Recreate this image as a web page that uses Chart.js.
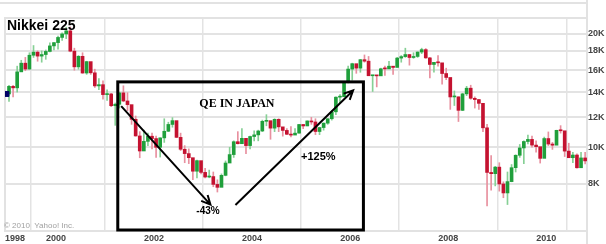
<!DOCTYPE html>
<html>
<head>
<meta charset="utf-8">
<script src="https://cdn.jsdelivr.net/npm/chart.js@4.4.1/dist/chart.umd.min.js"></script>
<style>
  html, body { margin: 0; padding: 0; background: #fff; }
  #wrap { width: 606px; height: 244px; }
</style>
</head>
<body>
<div id="wrap"><canvas id="myChart" width="606" height="244"></canvas></div>
<script>
// Nikkei 225, monthly, Jan 1999 .. Oct 2010
var startClose = 13842; // close of Dec 1998, open of first month
var closes = [
  14499, 14368, 15837, 16701, 16112, 17530, 17862, 17437, 17605, 17942, 18558, 18934,
  19540, 19960, 20337, 17974, 16332, 17411, 15727, 16861, 15747, 14539, 14649, 13786,
  13844, 12884, 12999, 13934, 13262, 12969, 11861, 10714, 9775, 10366, 10697, 10543,
  9998, 10588, 11025, 11493, 11764, 10622, 9878, 9620, 9383, 8640, 9216, 8579,
  8340, 8363, 7973, 7831, 8425, 9083, 9563, 10344, 10219, 10560, 10101, 10677,
  10784, 11042, 11715, 11761, 11237, 11859, 11326, 11082, 10824, 10771, 10899, 11489,
  11388, 11741, 11668, 11009, 11277, 11584, 11900, 12414, 13574, 13607, 14872, 16111,
  16650, 16205, 17060, 16906, 15467, 15505, 15457, 16140, 16128, 16399, 16274, 17226,
  17383, 17604, 17288, 17400, 17875, 18138, 17248, 16569, 16785, 16737, 15680, 15307,
  13592, 13603, 12525, 13849, 14338, 13481, 13376, 13072, 11259, 8576, 8512, 8859,
  7994, 7568, 8109, 8828, 9522, 9958, 10357, 10492, 10133, 10034, 9345, 10546,
  10198, 10126, 11089, 11057, 9768, 9382, 9537, 8824, 9369, 9202
];
var highs = [
  14600, 14600, 16400, 17000, 17300, 17800, 18600, 18000, 18000, 18100, 18900, 18950,
  19700, 20100, 20800, 20833, 18300, 17500, 17800, 16900, 16700, 16100, 15200, 15000,
  14200, 13900, 13100, 14000, 14550, 13950, 12800, 12100, 11000, 11100, 10900, 10900,
  10700, 10600, 11900, 11650, 11980, 11700, 10900, 10100, 9900, 9200, 9250, 9150,
  8800, 8700, 8600, 8200, 8500, 9200, 10000, 10400, 11000, 11200, 10500, 10700,
  11050, 11100, 11800, 12200, 11700, 11900, 11900, 11200, 11200, 11350, 11200, 11500,
  11500, 11750, 12000, 11900, 11300, 11600, 11900, 12500, 13600, 13800, 14900, 16400,
  16700, 16500, 17100, 17560, 17400, 15500, 15500, 16200, 16400, 16900, 16300, 17300,
  17500, 18300, 17600, 17800, 17900, 18300, 18260, 17300, 16800, 17500, 16400, 16200,
  15100, 14100, 13600, 13900, 14500, 14600, 13600, 13400, 12800, 11500, 9500, 8900,
  9100, 8100, 8600, 9000, 9550, 10170, 10400, 10770, 10700, 10400, 10000, 10640,
  10980, 10300, 11100, 11410, 11000, 10250, 9700, 9600, 9700, 9700
];
var lows = [
  13230, 13600, 14000, 15900, 15950, 16100, 17300, 16900, 16800, 17100, 17900, 18100,
  18200, 19200, 19400, 17900, 16000, 16100, 15700, 15600, 15600, 14400, 14200, 13400,
  13300, 12800, 11430, 12700, 13200, 12500, 11500, 10700, 9380, 9950, 10100, 9900,
  9400, 9420, 10300, 11000, 11300, 10600, 9800, 9100, 9050, 8200, 8300, 8500,
  8300, 8300, 7860, 7610, 7900, 8400, 9300, 9400, 10200, 10300, 9620, 9900,
  10400, 10400, 11000, 11400, 10500, 11000, 11000, 10700, 10800, 10650, 10800, 10900,
  11200, 11400, 11500, 10800, 10800, 11100, 11500, 11800, 12200, 13100, 13800, 14800,
  15060, 15700, 15800, 16800, 15500, 14050, 14450, 15500, 15500, 16300, 15600, 16300,
  16800, 17300, 16500, 17200, 17300, 17700, 17200, 15270, 15800, 16400, 14700, 15100,
  12600, 12900, 11700, 12500, 13700, 13400, 12700, 12600, 11000, 6990, 7700, 7900,
  7650, 7350, 7050, 8100, 8600, 9400, 9050, 10200, 10000, 9700, 9080, 9700,
  10100, 9870, 10400, 10900, 9450, 9400, 9100, 8800, 8900, 9030
];
var yearTicks = [2000, 2002, 2004, 2006, 2008, 2010];
var firstYearLabel = '1998';
var valueTicks = [8000, 10000, 12000, 14000, 16000, 18000, 20000];

var xMin = 1998.96, xMax = 2010.83;
var upBody = '#1f9f3b', upWick = '#86d095';
var downBody = '#c41230', downWick = '#e8909f';

var wicks = [], bodies = [], wickColors = [], bodyColors = [];
for (var i = 0; i < closes.length; i++) {
  var x = 1999 + (i + 0.5) / 12;
  var open = i === 0 ? startClose : closes[i - 1];
  var up = closes[i] >= open;
  wicks.push({x: x, y: [lows[i], highs[i]]});
  bodies.push({x: x, y: [open, closes[i]]});
  wickColors.push(up ? upWick : downWick);
  bodyColors.push(up ? upBody : downBody);
}

var overlay = {
  id: 'overlay',
  beforeDatasetsDraw: function(chart) {
    var c = chart.ctx, a = chart.chartArea;
    c.save();
    c.strokeStyle = '#e2e2e2';
    c.lineWidth = 2;
    c.strokeRect(a.left, a.top, a.right - a.left, a.bottom - a.top);
    c.beginPath();
    c.moveTo(0, 3); c.lineTo(a.right, 3);
    c.moveTo(a.right, 0); c.lineTo(a.right, 244);
    c.stroke();
    c.fillStyle = '#a0a0a0';
    c.font = '8px "Liberation Sans", Arial, sans-serif';
    c.textBaseline = 'middle';
    c.fillText('\u00a9 2010  Yahoo! Inc.', 4, 226);
    c.restore();
  },
  afterDatasetsDraw: function(chart) {
    var c = chart.ctx, a = chart.chartArea;
    var sx = chart.scales.x, sy = chart.scales.y;
    function px(v) { return sx.getPixelForValue(v); }
    function py(v) { return sy.getPixelForValue(v); }
    function arrow(x1, y1, x2, y2) {
      var ang = Math.atan2(y2 - y1, x2 - x1), h = 10;
      c.beginPath();
      c.moveTo(x1, y1); c.lineTo(x2, y2);
      c.moveTo(x2 - h * Math.cos(ang - 0.45), y2 - h * Math.sin(ang - 0.45));
      c.lineTo(x2, y2);
      c.lineTo(x2 - h * Math.cos(ang + 0.45), y2 - h * Math.sin(ang + 0.45));
      c.stroke();
    }
    c.save();
    c.strokeStyle = '#000';
    c.lineWidth = 3;
    c.strokeRect(px(2001.26), py(14900), px(2006.27) - px(2001.26), a.bottom - 1 - py(14900));
    c.lineWidth = 2;
    arrow(px(2001.33), py(12850), px(2003.15), py(7050));
    arrow(px(2003.66), py(7030), px(2006.06), py(14140));
    c.fillStyle = '#000';
    c.textAlign = 'center';
    c.textBaseline = 'middle';
    c.font = 'bold 12px "Liberation Serif", "Times New Roman", serif';
    c.fillText('QE IN JAPAN', px(2003.69), py(12990));
    c.font = 'bold 10px "Liberation Sans", Arial, sans-serif';
    c.fillText('-43%', px(2003.10), py(6750));
    c.font = 'bold 11px "Liberation Sans", Arial, sans-serif';
    c.fillText('+125%', px(2005.35), py(9410));
    c.textAlign = 'left';
    c.font = 'bold 14px "Liberation Sans", Arial, sans-serif';
    c.fillText('Nikkei 225', 7, 26);
    c.restore();
  }
};

var ctx = document.getElementById('myChart');
var myChart = new Chart(ctx, {
  type: 'bar',
  data: {
    datasets: [
      {
        type: 'scatter',
        data: [{x: xMin + 0.03, y: startClose}],
        pointStyle: 'rect',
        radius: 3.5,
        backgroundColor: '#000066',
        borderColor: '#000066',
        order: 0
      },
      {
        data: bodies,
        backgroundColor: bodyColors,
        barThickness: 3,
        minBarLength: 1,
        grouped: false,
        order: 1
      },
      {
        data: wicks,
        backgroundColor: wickColors,
        barThickness: 1,
        grouped: false,
        order: 2
      }
    ]
  },
  options: {
    responsive: false,
    animation: false,
    layout: { padding: { left: 2, top: 18, right: 0, bottom: 0 } },
    plugins: { legend: { display: false }, tooltip: { enabled: false } },
    scales: {
      x: {
        type: 'linear',
        min: xMin,
        max: xMax,
        offset: false,
        afterBuildTicks: function(scale) {
          scale.ticks = [{value: xMin}].concat(yearTicks.map(function(v) { return {value: v}; }), [{value: xMax}]);
        },
        afterFit: function(scale) { scale.height = 13; },
        ticks: {
          align: 'inner',
          padding: 2,
          maxRotation: 0,
          autoSkip: false,
          color: '#444',
          font: { family: '"Liberation Sans", Arial, sans-serif', size: 9, weight: 'bold' },
          callback: function(v) {
            if (v === xMin) return firstYearLabel;
            if (v === xMax) return '';
            return String(v);
          }
        },
        grid: { color: '#e3e3e3', lineWidth: 1.5, drawTicks: false },
        border: { display: false }
      },
      y: {
        type: 'logarithmic',
        position: 'right',
        min: 6000,
        max: 22000,
        afterBuildTicks: function(scale) {
          scale.ticks = valueTicks.map(function(v) { return {value: v}; });
        },
        afterFit: function(scale) { scale.width = 19; },
        ticks: {
          padding: 1,
          color: '#444',
          font: { family: '"Liberation Sans", Arial, sans-serif', size: 9, weight: 'bold' },
          callback: function(v) { return (v / 1000) + 'K'; }
        },
        grid: { color: '#e3e3e3', lineWidth: 2, drawTicks: false },
        border: { display: false }
      }
    }
  },
  plugins: [overlay]
});
</script>
</body>
</html>
